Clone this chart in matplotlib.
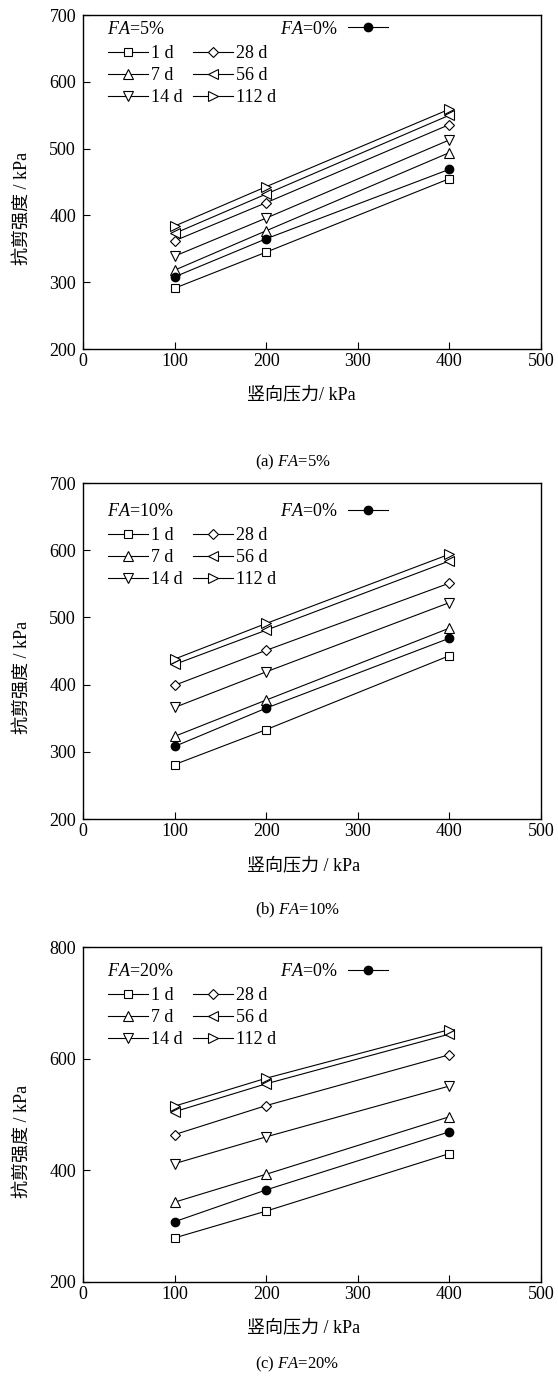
import matplotlib
matplotlib.use("Agg")
import matplotlib.pyplot as plt
from matplotlib.lines import Line2D

plt.rcParams['font.family'] = ['Liberation Serif', 'Noto Sans CJK SC']
plt.rcParams['mathtext.fontset'] = 'custom'
plt.rcParams['mathtext.rm'] = 'Liberation Serif'
plt.rcParams['mathtext.it'] = 'Liberation Serif:italic'
plt.rcParams['font.size'] = 13

# vertical pressure (kPa)
pressure = [100, 200, 400]
ages = ['1 d', '7 d', '14 d', '28 d', '56 d', '112 d']
markers = ['s', '^', 'v', 'D', '<', '>']
msizes = [5.5, 7.5, 7.5, 5.5, 7.5, 7.5]

# FA=0% reference curve
fa0 = [308, 365, 469]

# FA=5%
fa5 = {
    '1 d':   [291, 345, 455],
    '7 d':   [318, 377, 494],
    '14 d':  [339, 396, 513],
    '28 d':  [362, 419, 536],
    '56 d':  [373, 432, 550],
    '112 d': [384, 443, 559],
}
# FA=10%
fa10 = {
    '1 d':   [281, 333, 443],
    '7 d':   [323, 377, 484],
    '14 d':  [366, 419, 522],
    '28 d':  [399, 451, 551],
    '56 d':  [430, 481, 584],
    '112 d': [438, 491, 594],
}
# FA=20%
fa20 = {
    '1 d':   [279, 327, 430],
    '7 d':   [343, 393, 496],
    '14 d':  [412, 460, 551],
    '28 d':  [464, 516, 607],
    '56 d':  [505, 555, 644],
    '112 d': [515, 565, 652],
}

panels = [
    (fa5, '5%', (200, 700), [200, 300, 400, 500, 600, 700], '竖向压力/ kPa', '(a)'),
    (fa10, '10%', (200, 700), [200, 300, 400, 500, 600, 700], '竖向压力 / kPa', '(b)'),
    (fa20, '20%', (200, 800), [200, 400, 600, 800], '竖向压力 / kPa', '(c)'),
]

W, H = 558, 1378
fig = plt.figure(figsize=(W / 100, H / 100), dpi=100)

L, R = 83, 541
ax_px = [(15, 349), (483, 819), (947, 1282)]
fa_off = [14, 29, 25]        # px below top of axes, FA=x% text centre
leg_off = [30, 44, 40]       # px below top of axes, top of legend block
xlab_y = [395, 866, 1328]
cap_y = [462, 910, 1364]

for i, (data, fa, ylim, yticks, xlab, tag) in enumerate(panels):
    top, bot = ax_px[i]
    hpx = bot - top
    ax = fig.add_axes([L / W, (H - bot) / H, (R - L) / W, hpx / H])
    for age, m, ms in zip(ages, markers, msizes):
        ax.plot(pressure, data[age], color='black', lw=0.8, marker=m, ms=ms,
                mfc='white', mec='black', mew=0.8)
    ax.plot(pressure, fa0, color='black', lw=0.8, marker='o', ms=6,
            mfc='black', mec='black')
    ax.set_xlim(0, 500)
    ax.set_ylim(*ylim)
    ax.set_xticks([0, 100, 200, 300, 400, 500])
    ax.set_yticks(yticks)
    ax.tick_params(direction='in', length=5, width=0.8, labelsize=13, pad=3)
    ax.tick_params(axis='y', pad=5)
    for s in ax.spines.values():
        s.set_linewidth(1.0)
    ax.set_ylabel('抗剪强度 / kPa', fontsize=13)
    ax.yaxis.set_label_coords((31 - L) / (R - L), 0.42)

    fy = 1 - fa_off[i] / hpx
    ax.text((107 - L) / (R - L), fy, '$FA$=' + fa, transform=ax.transAxes,
            ha='left', va='center', fontsize=13)

    handles = [Line2D([], [], color='black', lw=0.8, marker=m, ms=ms - 0.3,
                      mfc='white', mec='black', mew=0.8)
               for m, ms in zip(markers, msizes)]
    ly = 1 - leg_off[i] / hpx
    for c, x0 in enumerate([108, 193]):
        leg = ax.legend(handles[3 * c:3 * c + 3], ages[3 * c:3 * c + 3],
                        loc='upper left', bbox_to_anchor=((x0 - L) / (R - L), ly),
                        frameon=False, fontsize=13, handlelength=2.2,
                        handletextpad=0.2, labelspacing=0.28,
                        borderpad=0, borderaxespad=0)
        ax.add_artist(leg)
    h0 = Line2D([], [], color='black', lw=0.8, marker='o', ms=6,
                mfc='black', mec='black')
    leg0 = ax.legend([h0], ['$FA$=0%'], loc='center left',
                     bbox_to_anchor=((280 - L) / (R - L), fy),
                     frameon=False, fontsize=13, markerfirst=False,
                     handlelength=2.2, handletextpad=0.6,
                     borderpad=0, borderaxespad=0)

    fig.text(247 / W, 1 - xlab_y[i] / H, xlab, ha='left', va='center', fontsize=13)
    fig.text(255 / W, 1 - cap_y[i] / H, tag + ' $FA$=' + fa, ha='left',
             va='center', fontsize=12)

fig.savefig('out.png', dpi=100)
